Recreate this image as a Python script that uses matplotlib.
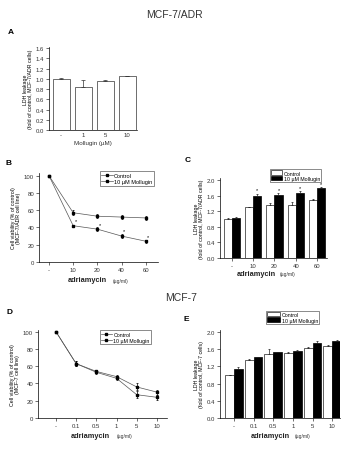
import matplotlib
matplotlib.use("Agg")
import matplotlib.pyplot as plt
import numpy as np
from matplotlib.lines import Line2D
from matplotlib.patches import Patch

plt.rcParams["font.family"] = ["Liberation Sans", "DejaVu Sans"]

# Panel A: LDH leakage, MCF-7/ADR, mollugin alone
a_labels = ["-", "1", "5", "10"]
a_vals = [1.00, 0.84, 0.96, 1.05]
a_err = [0.02, 0.14, 0.02, 0.01]

# Panel B: viability, MCF-7/ADR
b_labels = ["-", "10", "20", "40", "60"]
b_control = [100, 57, 53, 52, 51]
b_control_err = [1, 3, 2, 2, 2]
b_mollugin = [100, 42, 38, 30, 24]
b_mollugin_err = [1, 1, 2, 2, 2]
b_star = [False, True, True, True, True]

# Panel C: LDH leakage, MCF-7/ADR
c_labels = ["-", "10", "20", "40", "60"]
c_control = [1.00, 1.30, 1.37, 1.37, 1.48]
c_control_err = [0.02, 0.01, 0.04, 0.06, 0.03]
c_mollugin = [1.03, 1.60, 1.62, 1.66, 1.79]
c_mollugin_err = [0.01, 0.05, 0.04, 0.06, 0.03]
c_star = [False, True, True, True, True]

# Panel D: viability, MCF-7
d_labels = ["-", "0.1", "0.5", "1", "5", "10"]
d_control = [100, 63, 54, 48, 36, 30]
d_control_err = [1, 3, 2, 2, 4, 3]
d_mollugin = [100, 63, 53, 46, 27, 24]
d_mollugin_err = [1, 3, 2, 2, 4, 3]

# Panel E: LDH leakage, MCF-7
e_labels = ["-", "0.1", "0.5", "1", "5", "10"]
e_control = [1.00, 1.35, 1.50, 1.52, 1.64, 1.68]
e_control_err = [0.01, 0.02, 0.10, 0.02, 0.01, 0.02]
e_mollugin = [1.15, 1.41, 1.53, 1.55, 1.74, 1.80]
e_mollugin_err = [0.04, 0.01, 0.01, 0.04, 0.06, 0.02]

W, H = 345, 460
fig = plt.figure(figsize=(W / 100, H / 100), dpi=100)

TICK_FS = 4.3
LAB_FS = 3.8


def px_axes(x0, y_top, x1, y_bot):
    return fig.add_axes([x0 / W, 1 - y_bot / H, (x1 - x0) / W, (y_bot - y_top) / H])


def style(ax):
    for s in ("top", "right"):
        ax.spines[s].set_visible(False)
    for s in ("left", "bottom"):
        ax.spines[s].set_linewidth(0.5)
    ax.tick_params(labelsize=TICK_FS, width=0.5, length=2, pad=1.5, colors="#333333")


def adria_label(ax, x_right, x_unit, y):
    ax.text(x_right, y, "adriamycin", transform=ax.transAxes, ha="right", va="center",
            fontsize=5.3, fontweight="bold", color="#222222")
    ax.text(x_unit, y, "(\u00b5g/ml)", transform=ax.transAxes, ha="left", va="center",
            fontsize=3.6, color="#333333")


def panel_letter(x, y, s):
    fig.text(x / W, 1 - y / H, s, fontsize=6, fontweight="bold", ha="left", va="center")


fig.text(174 / W, 1 - 15 / H, "MCF-7/ADR", ha="center", va="center", fontsize=7.5, color="#333333")
fig.text(181 / W, 1 - 298 / H, "MCF-7", ha="center", va="center", fontsize=7.5, color="#333333")

# ---- A ----
panel_letter(8, 33, "A")
ax = px_axes(49, 48, 137, 131)
style(ax)
x = np.arange(len(a_labels))
ax.bar(x, a_vals, width=0.77, color="white", edgecolor="#333333", linewidth=0.5)
ax.errorbar(x, a_vals, yerr=[np.zeros(len(a_err)), a_err], fmt="none", ecolor="#333333",
            elinewidth=0.5, capsize=1.2, capthick=0.5)
ax.set_xlim(-0.55, 3.45)
ax.set_ylim(0, 1.62)
ax.set_yticks(np.arange(0, 1.61, 0.2))
ax.set_yticklabels([f"{v:.1f}" for v in np.arange(0, 1.61, 0.2)])
ax.set_xticks(x)
ax.set_xticklabels(a_labels)
ax.tick_params(axis="x", length=0)
ax.set_xlabel("Mollugin (\u00b5M)", fontsize=4.5, labelpad=2, color="#333333")
ax.set_ylabel("LDH leakage\n(fold of control, MCF-7/ADR cells)", fontsize=LAB_FS, labelpad=2,
              linespacing=1.0)


def line_panel(ax, labels, ctrl, ctrl_err, mol, mol_err, ylim_top, stars=None):
    style(ax)
    x = np.arange(len(labels))
    ax.errorbar(x, ctrl, yerr=ctrl_err, color="#555555", lw=0.5, marker="s", ms=1.8,
                mfc="black", mec="black", ecolor="black", elinewidth=0.5, capsize=1.0,
                capthick=0.5)
    ax.errorbar(x, mol, yerr=mol_err, color="#555555", lw=0.5, marker="s", ms=1.8,
                mfc="black", mec="black", ecolor="black", elinewidth=0.5, capsize=1.0,
                capthick=0.5)
    if stars is not None:
        for xi, v, s in zip(x, mol, stars):
            if s:
                ax.text(xi + 0.1, v + 3, "*", fontsize=4, ha="center", va="bottom")
    ax.set_xticks(x)
    ax.set_xticklabels(labels)
    ax.set_ylim(0, ylim_top)
    ax.set_yticks(np.arange(0, 101, 20))
    handles = [Line2D([0], [0], color="#555555", lw=0.5, marker="s", ms=1.8, mfc="black",
                      mec="black"),
               Line2D([0], [0], color="#555555", lw=0.5, marker="s", ms=1.8, mfc="black",
                      mec="black")]
    return handles


# ---- B ----
panel_letter(5, 164, "B")
ax = px_axes(39, 174, 158, 263)
h = line_panel(ax, b_labels, b_control, b_control_err, b_mollugin, b_mollugin_err, 103, b_star)
ax.set_xlim(-0.41, 4.5)
ax.set_ylabel("Cell viability (% of control)\n(MCF-7/ADR cell line)", fontsize=LAB_FS,
              labelpad=2, linespacing=1.0)
adria_label(ax, 0.57, 0.62, -(281 - 263) / 89)
leg = ax.legend(h, ["Control", "10 \u00b5M Mollugin"], fontsize=4, loc="upper left",
                bbox_to_anchor=((97 - 39) / 119, 1.05), frameon=True, fancybox=False,
                handlelength=2, borderpad=0.3, labelspacing=0.2, handletextpad=0.3)
leg.get_frame().set_linewidth(0.5)
leg.get_frame().set_edgecolor("#333333")


def bar_panel(ax, labels, ctrl, ctrl_err, mol, mol_err, width, stars=None):
    style(ax)
    x = np.arange(len(labels))
    ax.bar(x - width / 2, ctrl, width=width, color="white", edgecolor="#222222", linewidth=0.5)
    ax.bar(x + width / 2, mol, width=width, color="black", edgecolor="black", linewidth=0.5)
    ax.errorbar(x - width / 2, ctrl, yerr=[np.zeros(len(ctrl_err)), ctrl_err], fmt="none",
                ecolor="#222222", elinewidth=0.5, capsize=1.0, capthick=0.5)
    ax.errorbar(x + width / 2, mol, yerr=[np.zeros(len(mol_err)), mol_err], fmt="none",
                ecolor="#222222", elinewidth=0.5, capsize=1.0, capthick=0.5)
    if stars is not None:
        for xi, v, e, s in zip(x, mol, mol_err, stars):
            if s:
                ax.text(xi + width / 2, v + e + 0.03, "*", fontsize=4, ha="center", va="bottom")
    ax.set_xticks(x)
    ax.set_xticklabels(labels)
    ax.set_ylim(0, 2.05)
    ax.set_yticks(np.arange(0, 2.01, 0.4))
    ax.set_yticklabels([f"{v:.1f}" for v in np.arange(0, 2.01, 0.4)])
    handles = [Patch(facecolor="white", edgecolor="#222222", linewidth=0.5),
               Patch(facecolor="black", edgecolor="black", linewidth=0.5)]
    return handles


# ---- C ----
panel_letter(185, 160, "C")
ax = px_axes(220, 179, 327, 259)
h = bar_panel(ax, c_labels, c_control, c_control_err, c_mollugin, c_mollugin_err, 0.38, c_star)
ax.set_xlim(-0.56, 4.47)
ax.set_ylabel("LDH leakage\n(fold of control, MCF-7/ADR cells)", fontsize=LAB_FS, labelpad=2,
              linespacing=1.0)
adria_label(ax, 0.52, 0.56, -(275 - 259) / 80)
leg = ax.legend(h, ["Control", "10 \u00b5M Mollugin"], fontsize=3.8, loc="upper left",
                bbox_to_anchor=((267 - 220) / 107, 1.14), frameon=True, fancybox=False,
                handlelength=2.2, handleheight=0.9, borderpad=0.2, labelspacing=0.1,
                handletextpad=0.3)
leg.get_frame().set_linewidth(0.5)
leg.get_frame().set_edgecolor("#333333")

# ---- D ----
panel_letter(7, 313, "D")
ax = px_axes(38, 331, 167, 419)
h = line_panel(ax, d_labels, d_control, d_control_err, d_mollugin, d_mollugin_err, 102)
ax.set_xlim(-0.89, 5.5)
ax.set_ylabel("Cell viability (% of control)\n(MCF-7 cell line)", fontsize=LAB_FS,
              labelpad=2, linespacing=1.0)
adria_label(ax, 0.56, 0.61, -(437 - 419) / 88)
leg = ax.legend(h, ["Control", "10 \u00b5M Mollugin"], fontsize=3.8, loc="upper left",
                bbox_to_anchor=((97 - 38) / 129, 1.03), frameon=True, fancybox=False,
                handlelength=2, borderpad=0.3, labelspacing=0.2, handletextpad=0.3)
leg.get_frame().set_linewidth(0.5)
leg.get_frame().set_edgecolor("#333333")

# ---- E ----
panel_letter(184, 320, "E")
ax = px_axes(220, 331, 340, 419)
h = bar_panel(ax, e_labels, e_control, e_control_err, e_mollugin, e_mollugin_err, 0.45)
ax.set_xlim(-0.71, 5.4)
ax.set_ylabel("LDH leakage\n(fold of control, MCF-7 cells)", fontsize=LAB_FS, labelpad=2,
              linespacing=1.0)
adria_label(ax, 0.58, 0.62, -(437 - 419) / 88)
leg = ax.legend(h, ["Control", "10 \u00b5M Mollugin"], fontsize=3.8, loc="upper left",
                bbox_to_anchor=((263 - 220) / 120, 1.25), frameon=True, fancybox=False,
                handlelength=2.6, handleheight=1.0, borderpad=0.2, labelspacing=0.1,
                handletextpad=0.3)
leg.get_frame().set_linewidth(0.5)
leg.get_frame().set_edgecolor("#333333")

fig.savefig("out.png", dpi=100)
